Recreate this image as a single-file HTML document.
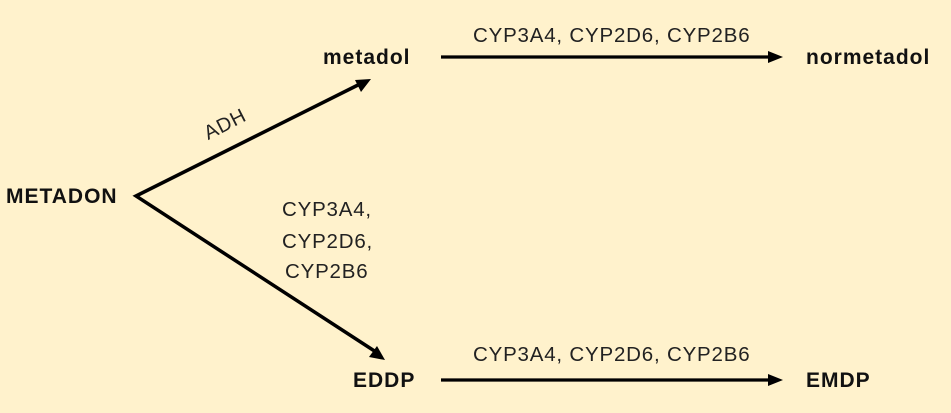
<!DOCTYPE html>
<html><head><style>
html,body{margin:0;padding:0;}
body{width:951px;height:413px;background:#fff2cc;position:relative;overflow:hidden;font-family:"Liberation Sans",sans-serif;color:#111;}
.t{position:absolute;white-space:nowrap;line-height:24px;}
.b{font-weight:bold;font-size:21px;letter-spacing:1px;}
.r{font-size:20.5px;color:#222;letter-spacing:0.8px;}
</style></head><body>
<svg width="951" height="413" style="position:absolute;left:0;top:0">
<g stroke="#000" stroke-width="3.5" fill="none">
<polyline points="362,83 136,196 376,352"/>
</g>
<path d="M371,79 L355,80 L361,92 Z" fill="#000"/>
<path d="M385,360 L369,357 L377,346 Z" fill="#000"/>
<line x1="441" y1="57" x2="770" y2="57" stroke="#000" stroke-width="3.2"/>
<path d="M783,57 L768,51 L768,63 Z" fill="#000"/>
<line x1="441" y1="380" x2="770" y2="380" stroke="#000" stroke-width="3.2"/>
<path d="M783,380 L768,374 L768,386 Z" fill="#000"/>
<text x="228" y="130" font-family="Liberation Sans" font-size="20" fill="#222" letter-spacing="0.8" transform="rotate(-27 228 130)" text-anchor="middle">ADH</text>
</svg>
<div class="t b" style="left:6px;top:185px;">METADON</div>
<div class="t b" style="left:323px;top:46px;">metadol</div>
<div class="t b" style="left:806px;top:46px;">normetadol</div>
<div class="t b" style="left:353px;top:369px;">EDDP</div>
<div class="t b" style="left:806px;top:369px;">EMDP</div>
<div class="t r" style="left:473px;top:24px;">CYP3A4, CYP2D6, CYP2B6</div>
<div class="t r" style="left:473px;top:343px;">CYP3A4, CYP2D6, CYP2B6</div>
<div class="t r" style="left:282px;top:198px;">CYP3A4,</div>
<div class="t r" style="left:282px;top:230px;">CYP2D6,</div>
<div class="t r" style="left:285px;top:260px;">CYP2B6</div>
</body></html>
